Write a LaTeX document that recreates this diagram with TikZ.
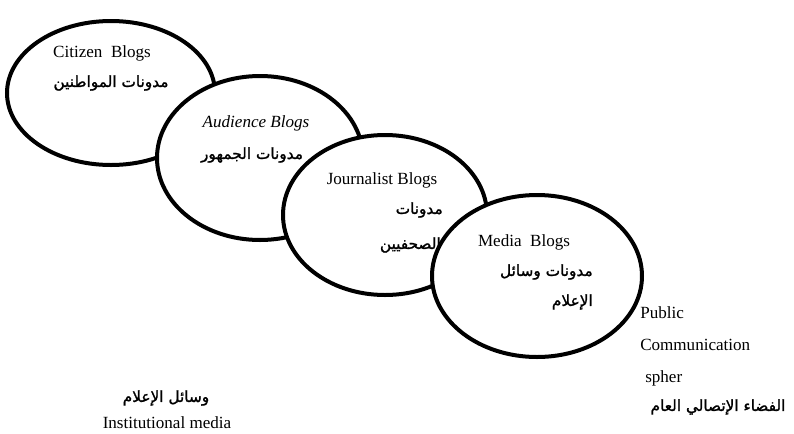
\documentclass[tikz,border=0pt]{standalone}
\usepackage{fontspec}
\setmainfont{Liberation Serif}
\newfontfamily\arabicfont[Script=Arabic, FakeBold=1.3]{DejaVu Sans}
\TeXXeTstate=1
\usetikzlibrary{shapes.geometric}
\tikzset{
  blob/.style={ellipse, draw=black, fill=white, line width=3pt, inner sep=0pt},
  lat/.style={font=\fontsize{12.8}{15}\selectfont, inner sep=0pt},
  ara/.style={font=\arabicfont\fontsize{11.5}{13}\selectfont, inner sep=0pt},
}
\begin{document}
\begin{tikzpicture}[x=0.75pt,y=-0.75pt]
\useasboundingbox (0,0) rectangle (794,433);
\node[blob, minimum width=156pt, minimum height=108pt] (cit) at (111,93) {};
\node[blob, minimum width=154.5pt, minimum height=123pt] (aud) at (260,158) {};
\node[blob, minimum width=153pt, minimum height=120pt] (jou) at (385,215) {};
\node[blob, minimum width=157.5pt, minimum height=121.5pt] (med) at (537,276) {};
% texts
\node[lat] (t1) at (102,53) {Citizen\ \ Blogs};
\node[ara] (a1) at (111,83) {\beginR مدونات المواطنين\endR};
\node[lat, font=\fontsize{12.8}{15}\selectfont\itshape] (t2) at (256,123) {Audience Blogs};
\node[ara] (a2) at (252,155) {\beginR مدونات الجمهور\endR};
\node[lat] (t3) at (382,180) {Journalist Blogs};
\node[ara, anchor=east] (a3) at (443,210) {\beginR مدونات\endR};
\node[ara, anchor=east] (a3b) at (441,245) {\beginR الصحفيين\endR};
\node[lat] (t4) at (524,242) {Media\ \ Blogs};
\node[ara, anchor=east] (a4) at (593,272) {\beginR مدونات وسائل\endR};
\node[ara, anchor=east] (a4b) at (593,302) {\beginR الإعلام\endR};
\node[lat, anchor=west] (p1) at (640,313) {Public};
\node[lat, anchor=west] (p2) at (640,345) {Communication};
\node[lat, anchor=west] (p3) at (645,378) {spher};
\node[ara] (p4) at (718,407) {\beginR الفضاء الإتصالي العام\endR};
\node[ara] (i1) at (166,398) {\beginR وسائل الإعلام\endR};
\node[lat] (i2) at (167,423) {Institutional media};
\end{tikzpicture}
\end{document}
